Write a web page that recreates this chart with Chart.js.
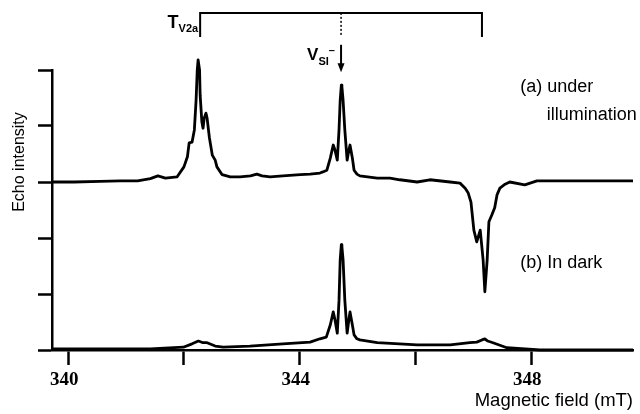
<!DOCTYPE html>
<html>
<head>
<meta charset="utf-8">
<script src="https://cdn.jsdelivr.net/npm/chart.js@4.4.1/dist/chart.umd.min.js"></script>
<style>
  html, body { margin: 0; padding: 0; background: #fff; }
  canvas { display: block; }
</style>
</head>
<body>
<canvas id="chart" width="640" height="414"></canvas>
<script>
// (a) under illumination, plotted with an offset of 3 units
const fieldA = [339.72, 340.10, 340.55, 340.90, 341.20, 341.42, 341.55, 341.68, 341.88, 342.00,
  342.06, 342.09, 342.14, 342.18, 342.21, 342.23, 342.245, 342.255, 342.27, 342.28, 342.31,
  342.33, 342.35, 342.38, 342.40, 342.44, 342.49, 342.54, 342.57, 342.66, 342.80,
  342.97, 343.15, 343.26, 343.35, 343.49, 343.71, 344.01, 344.18, 344.35, 344.40,
  344.47, 344.53, 344.58, 344.61, 344.65, 344.68, 344.70, 344.72, 344.73, 344.75,
  344.78, 344.82, 344.85, 344.87, 344.91, 344.94, 344.99, 345.04, 345.34, 345.56,
  345.73, 346.03, 346.25, 346.60, 346.77, 346.86, 346.91, 346.96, 347.01, 347.06,
  347.12, 347.17, 347.20, 347.24, 347.27, 347.32, 347.37, 347.41, 347.46, 347.55,
  347.63, 347.89, 348.10, 348.50, 348.84, 349.19, 349.76];
const echoA = [3.00, 3.00, 3.01, 3.02, 3.02, 3.06, 3.11, 3.07, 3.09, 3.27,
  3.45, 3.70, 3.71, 3.93, 4.46, 5.00, 5.18, 5.18, 5.00, 4.55, 4.07,
  3.96, 4.14, 4.23, 4.14, 3.79, 3.48, 3.39, 3.27, 3.13, 3.09,
  3.09, 3.11, 3.14, 3.11, 3.09, 3.11, 3.13, 3.14, 3.16, 3.18,
  3.21, 3.43, 3.66, 3.57, 3.39, 3.93, 4.46, 4.73, 4.70, 4.46,
  3.93, 3.39, 3.57, 3.66, 3.43, 3.21, 3.14, 3.11, 3.07, 3.07,
  3.04, 3.00, 3.04, 3.00, 2.98, 2.89, 2.81, 2.64, 2.14, 1.93,
  2.14, 1.61, 1.04, 1.61, 2.29, 2.41, 2.54, 2.77, 2.89, 2.96,
  3.00, 2.95, 3.02, 3.02, 3.02, 3.02, 3.02];

// (b) in dark
const fieldB = [339.72, 340.55, 341.42, 341.99, 342.14, 342.25, 342.33, 342.40, 342.54, 342.68,
  343.14, 343.71, 344.18, 344.35, 344.46, 344.53, 344.58, 344.61, 344.65, 344.68,
  344.70, 344.72, 344.73, 344.75, 344.78, 344.82, 344.85, 344.87, 344.91, 344.94,
  344.99, 345.04, 345.34, 346.03, 346.60, 346.94, 347.06, 347.15, 347.20, 347.25,
  347.34, 347.58, 348.15, 349.76];
const echoB = [0.02, 0.02, 0.02, 0.05, 0.11, 0.16, 0.13, 0.13, 0.07, 0.05,
  0.07, 0.11, 0.14, 0.20, 0.23, 0.45, 0.68, 0.54, 0.30, 0.89,
  1.61, 1.88, 1.84, 1.61, 0.89, 0.30, 0.54, 0.68, 0.45, 0.27,
  0.20, 0.18, 0.13, 0.09, 0.09, 0.13, 0.14, 0.18, 0.20, 0.16,
  0.13, 0.04, 0.00, 0.00];

const xTicks = [340, 342, 344, 346, 348];
const xTickLabels = ['340', '', '344', '', '348'];
const yTicks = [0, 1, 2, 3, 4, 5];

// T_V2a bracket ends and V_Si- line position (mT)
const tv2aLow = 342.28;
const tv2aHigh = 347.15;
const vsiField = 344.715;

const annotations = {
  id: 'annotations',
  afterDraw(chart) {
    const { ctx, scales: { x, y } } = chart;
    const xl = x.getPixelForValue(tv2aLow);
    const xr = x.getPixelForValue(tv2aHigh);
    const xm = x.getPixelForValue(vsiField);
    const yt = y.getPixelForValue(6.02);
    const yb = y.getPixelForValue(5.59);
    ctx.save();
    ctx.strokeStyle = '#000';
    ctx.fillStyle = '#000';

    // bracket
    ctx.lineWidth = 2;
    ctx.beginPath();
    ctx.moveTo(xl, yb);
    ctx.lineTo(xl, yt);
    ctx.lineTo(xr, yt);
    ctx.lineTo(xr, yb);
    ctx.stroke();
    ctx.lineWidth = 1.5;
    ctx.setLineDash([2, 2]);
    ctx.beginPath();
    ctx.moveTo(xm, yt);
    ctx.lineTo(xm, yb);
    ctx.stroke();
    ctx.setLineDash([]);

    // arrow
    const ya = y.getPixelForValue(5.45);
    const yh = y.getPixelForValue(4.96);
    ctx.lineWidth = 2;
    ctx.beginPath();
    ctx.moveTo(xm, ya);
    ctx.lineTo(xm, yh - 6);
    ctx.stroke();
    ctx.beginPath();
    ctx.moveTo(xm - 3.5, yh - 9);
    ctx.lineTo(xm + 3.5, yh - 9);
    ctx.lineTo(xm, yh);
    ctx.closePath();
    ctx.fill();

    // T_V2a label
    ctx.textBaseline = 'alphabetic';
    ctx.textAlign = 'right';
    ctx.font = 'bold 11px "Liberation Sans"';
    ctx.fillText('V2a', xl - 2, 32);
    const subW = ctx.measureText('V2a').width;
    ctx.font = 'bold 18px "Liberation Sans"';
    ctx.fillText('T', xl - 2 - subW, 28);

    // V_Si- label
    ctx.textAlign = 'left';
    let tx = xm - 34;
    ctx.font = 'bold 17px "Liberation Sans"';
    ctx.fillText('V', tx, 60);
    tx += ctx.measureText('V').width;
    ctx.font = 'bold 11px "Liberation Sans"';
    ctx.fillText('SI', tx, 65);
    tx += ctx.measureText('SI').width;
    ctx.fillText('\u2013', tx, 54);

    // trace labels
    ctx.font = '18px "Liberation Sans"';
    ctx.textBaseline = 'middle';
    ctx.fillText('(a) under', x.getPixelForValue(347.81), y.getPixelForValue(4.70));
    ctx.fillText('illumination', x.getPixelForValue(348.27), y.getPixelForValue(4.20));
    ctx.fillText('(b) In dark', x.getPixelForValue(347.81), y.getPixelForValue(1.55));

    // y axis title
    ctx.translate(20, 162);
    ctx.rotate(-Math.PI / 2);
    ctx.textAlign = 'center';
    ctx.font = '16px "Liberation Sans"';
    ctx.fillText('Echo intensity', 0, 0);
    ctx.restore();
  }
};

const axisGrid = { drawOnChartArea: false, drawTicks: true, tickWidth: 2.5, color: '#000' };

new Chart(document.getElementById('chart'), {
  type: 'line',
  data: {
    datasets: [
      { label: '(a) under illumination', data: fieldA.map((v, i) => ({ x: v, y: echoA[i] })), clip: false },
      { label: '(b) In dark', data: fieldB.map((v, i) => ({ x: v, y: echoB[i] })), clip: false }
    ]
  },
  options: {
    responsive: false,
    animation: false,
    layout: { padding: { top: 70, right: 7, bottom: 0, left: 0 } },
    plugins: { legend: { display: false }, tooltip: { enabled: false } },
    elements: {
      point: { radius: 0 },
      line: { tension: 0, borderWidth: 2.8, borderColor: '#000', borderJoinStyle: 'round', fill: false }
    },
    scales: {
      x: {
        type: 'linear',
        min: 339.72,
        max: 349.76,
        afterBuildTicks: s => { s.ticks = xTicks.map(v => ({ value: v })); },
        afterFit: s => { s.height = 64; },
        grid: { ...axisGrid, tickLength: 15 },
        border: { display: true, color: '#000', width: 2.5 },
        ticks: {
          color: '#000', padding: 4, labelOffset: -4, maxRotation: 0, autoSkip: false,
          font: { family: '"Liberation Serif"', size: 19, weight: 'bold' },
          callback: (v, i) => xTickLabels[i]
        },
        title: {
          display: true, text: 'Magnetic field (mT)', align: 'end', color: '#000',
          font: { family: '"Liberation Sans"', size: 18.5 }, padding: { top: 0, bottom: 2 }
        }
      },
      y: {
        min: 0,
        max: 5,
        afterBuildTicks: s => { s.ticks = yTicks.map(v => ({ value: v })); },
        afterFit: s => { s.width = 52; },
        grid: { ...axisGrid, tickLength: 14 },
        border: { display: true, color: '#000', width: 2.5 },
        ticks: { display: false }
      }
    }
  },
  plugins: [annotations]
});
</script>
</body>
</html>
